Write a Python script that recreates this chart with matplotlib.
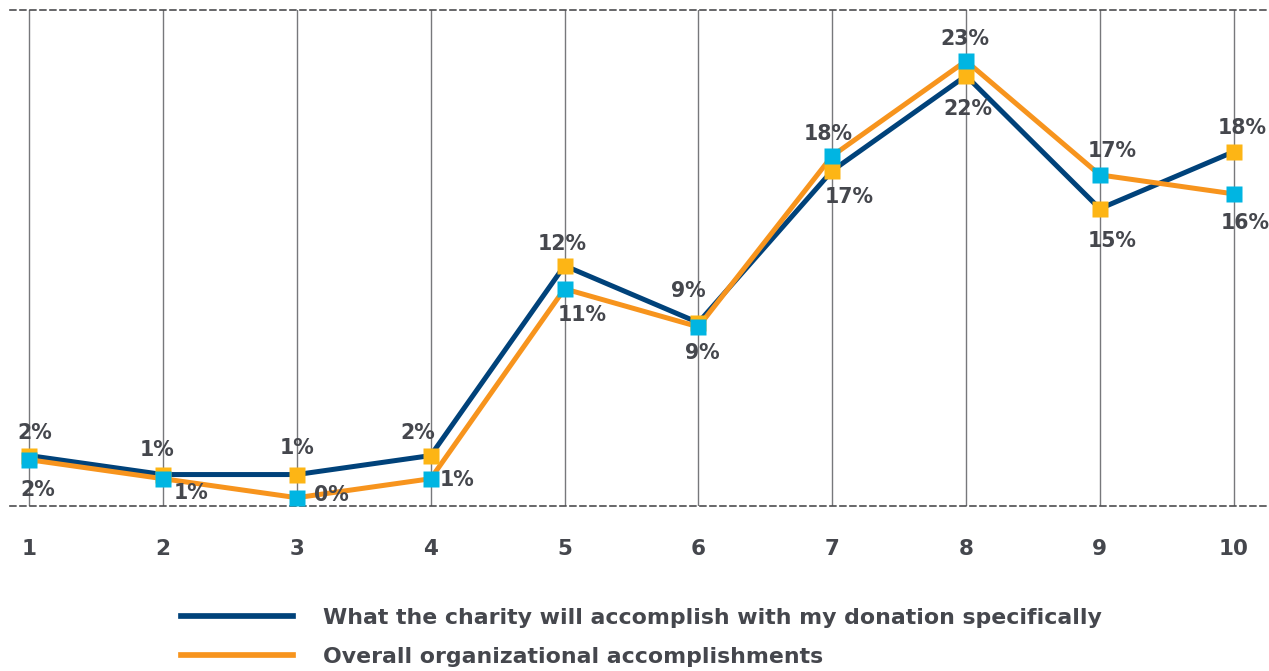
import matplotlib
matplotlib.use("Agg")
import matplotlib.pyplot as plt
import matplotlib.transforms as mtransforms
from matplotlib.lines import Line2D

# Ratings 1-10 and share of respondents (%) for each kind of impact information
ratings = [1, 2, 3, 4, 5, 6, 7, 8, 9, 10]
specific = [2, 1, 1, 2, 12, 9, 17, 22, 15, 18]
overall = [2, 1, 0, 1, 11, 9, 18, 23, 17, 16]
series_names = ["What the charity will accomplish with my donation specifically",
                "Overall organizational accomplishments"]

NAVY = "#00427a"
ORANGE = "#f7941d"
YELLOW = "#fdb515"
CYAN = "#00b5e2"
TEXT = "#45474d"
GRID = "#77787b"

# label offsets (points) from each marker
specific_offsets = [(4, 17), (-4, 19), (0, 20), (-9, 17), (-2, 17),
                    (-7, 24), (12, -18), (1, -23), (9, -22), (6, 18)]
overall_offsets = [(6, -21), (20, -9), (25, 3), (19, 0), (13, -18),
                   (3, -18), (-3, 17), (-1, 17), (9, 18), (8, -20)]

plt.rcParams["font.family"] = ["DejaVu Sans"]
plt.rcParams["font.weight"] = "bold"

LABEL_SIZE = 14.8
CAP = 0.729 * LABEL_SIZE  # cap height, used to centre digits on the offset

fig = plt.figure(figsize=(12.69, 6.71), dpi=100)
ax = fig.add_axes([10 / 1269, 165 / 671, 1259 / 1269, 496.5 / 671])
ax.set_xlim(0.8565, 10.264)
ax.set_ylim(-0.437, 25.71)

# the "specific" series sits a few points higher on the original layout
shifted = mtransforms.offset_copy(ax.transData, fig=fig, x=0, y=3, units="points")

ax.plot(ratings, specific, color=NAVY, lw=3.6, transform=shifted, zorder=3,
        solid_joinstyle="miter")
ax.plot(ratings, overall, color=ORANGE, lw=3.6, zorder=4, solid_joinstyle="miter")
ax.plot(ratings, specific, ls="none", marker="s", ms=12, mfc=YELLOW, mec="none",
        transform=shifted, zorder=5)
ax.plot(ratings, overall, ls="none", marker="s", ms=12, mfc=CYAN, mec="none", zorder=6)

for x, v, (dx, dy) in zip(ratings, specific, specific_offsets):
    ax.annotate(f"{v}%", xy=(x, v), xycoords=shifted, xytext=(dx, dy - CAP / 2),
                textcoords="offset points", ha="center", va="baseline",
                fontsize=LABEL_SIZE, fontweight="bold", color=TEXT, zorder=7)
for x, v, (dx, dy) in zip(ratings, overall, overall_offsets):
    ax.annotate(f"{v}%", xy=(x, v), xytext=(dx, dy - CAP / 2),
                textcoords="offset points", ha="center", va="baseline",
                fontsize=LABEL_SIZE, fontweight="bold", color=TEXT, zorder=7)

# dashed top/bottom rules, plain vertical grid
for side in ["left", "right"]:
    ax.spines[side].set_visible(False)
for side in ["top", "bottom"]:
    ax.spines[side].set_color("#4d4d4f")
    ax.spines[side].set_linewidth(1.2)
    ax.spines[side].set_linestyle((0, (3.5, 2.5)))
ax.set_yticks([])
ax.set_xticks(ratings)
ax.set_xticklabels([str(r) for r in ratings], fontsize=15.5, fontweight="bold", color=TEXT)
ax.tick_params(axis="x", length=0, pad=23.5)
ax.grid(axis="x", color=GRID, lw=1)
ax.set_axisbelow(True)

handles = [Line2D([], [], color=NAVY, lw=4.1), Line2D([], [], color=ORANGE, lw=4.1)]
leg = fig.legend(handles, series_names, loc="upper left",
                 bbox_to_anchor=(181 / 1269, 1 - 608 / 671), frameon=False,
                 fontsize=15.8, handlelength=5.09, handletextpad=1.38,
                 labelspacing=0.86, borderpad=0, borderaxespad=0)
for t in leg.get_texts():
    t.set_color(TEXT)
    t.set_fontweight("bold")

fig.savefig("out.png", dpi=100)
